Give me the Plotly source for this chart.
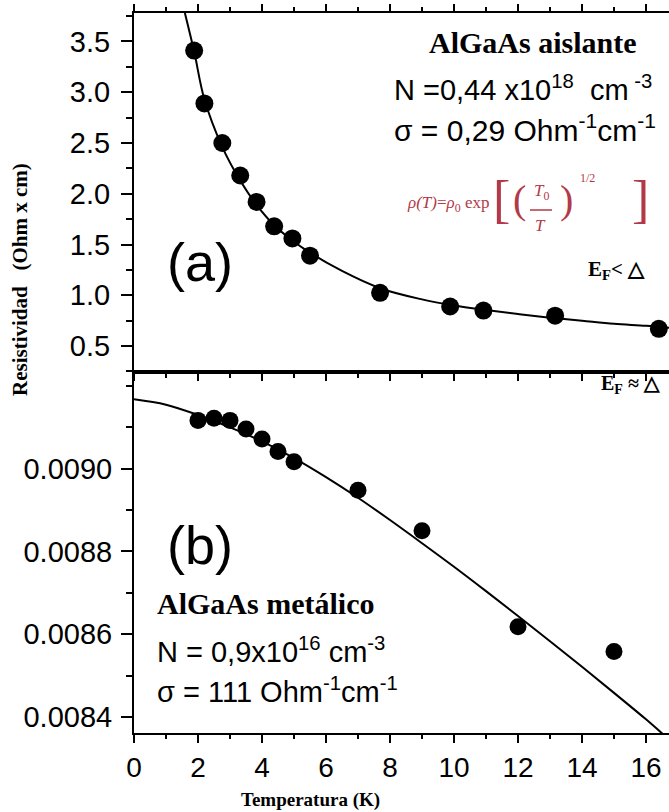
import plotly.graph_objects as go

# ---------------- data ----------------
# (a) insulating AlGaAs
temp_a = [1.88, 2.20, 2.76, 3.32, 3.83, 4.38, 4.95, 5.50, 7.69, 9.88, 10.92, 13.16, 16.40]
rho_a = [3.41, 2.89, 2.50, 2.18, 1.92, 1.68, 1.56, 1.39, 1.025, 0.89, 0.85, 0.80, 0.67]
fit_temp_a = [1.59, 1.88, 2.20, 2.76, 3.32, 3.83, 4.38, 4.95, 5.50, 6.50, 7.69, 9.0, 10.0,
              11.0, 12.0, 13.0, 14.0, 15.0, 16.0, 16.72]
fit_rho_a = [3.78, 3.40, 2.93, 2.46, 2.13, 1.89, 1.69, 1.54, 1.42, 1.24, 1.07, 0.96, 0.90,
             0.855, 0.815, 0.78, 0.75, 0.72, 0.70, 0.68]

# (b) metallic AlGaAs
temp_b = [2.0, 2.5, 3.0, 3.5, 4.0, 4.5, 5.0, 7.0, 9.0, 12.0, 15.0]
rho_b = [0.009117, 0.009122, 0.009117, 0.009096, 0.009072, 0.009042, 0.009017,
         0.008948, 0.008850, 0.008618, 0.008558]
fit_temp_b = [0, 1, 2, 3, 4, 5, 6, 7, 8, 9, 10, 11, 12, 13, 14, 15, 16, 16.72]
fit_rho_b = [0.009168, 0.009155, 0.009130, 0.009100, 0.009066, 0.009026, 0.008980,
             0.008930, 0.008876, 0.008820, 0.008763, 0.008704, 0.008644, 0.008583,
             0.008521, 0.008458, 0.008394, 0.008345]

x_ticks = [0, 2, 4, 6, 8, 10, 12, 14, 16]
ya_ticks = [0.5, 1.0, 1.5, 2.0, 2.5, 3.0, 3.5]
yb_ticks = [0.0084, 0.0086, 0.0088, 0.0090]

# ---------------- layout helpers ----------------
W, H = 669, 812
L, R, T, B = 134, 0, 13, 79
PW, PH = W - L - R, H - T - B
SPLIT = 372  # pixel row where the panels meet


def px(x):
    return (x - L) / PW


def py(y):
    return (H - B - y) / PH


SANS = "Liberation Sans, Arial, sans-serif"
SERIF = "Liberation Serif, Times New Roman, serif"
RED = "#b23a48"

fig = go.Figure()

fig.add_trace(go.Scatter(x=fit_temp_a, y=fit_rho_a, mode="lines", line=dict(color="black", width=2, shape="spline"),
                         xaxis="x", yaxis="y", showlegend=False, hoverinfo="skip"))
fig.add_trace(go.Scatter(x=temp_a, y=rho_a, mode="markers", marker=dict(color="black", size=18),
                         xaxis="x", yaxis="y", showlegend=False))
fig.add_trace(go.Scatter(x=fit_temp_b, y=fit_rho_b, mode="lines", line=dict(color="black", width=2, shape="spline"),
                         xaxis="x2", yaxis="y2", showlegend=False, hoverinfo="skip"))
fig.add_trace(go.Scatter(x=temp_b, y=rho_b, mode="markers", marker=dict(color="black", size=17),
                         xaxis="x2", yaxis="y2", showlegend=False))

split_frac = py(SPLIT)
xrange_ = [0, (W - L) / 32.0]

axis_common = dict(showline=True, linecolor="black", linewidth=2, ticks="outside", tickcolor="black",
                   tickwidth=2, showgrid=False, zeroline=False,
                   tickfont=dict(family=SANS, size=29, color="black"))

fig.update_layout(
    width=W, height=H,
    margin=dict(l=L, r=R, t=T, b=B),
    paper_bgcolor="white", plot_bgcolor="white",
    xaxis=dict(axis_common, range=xrange_, anchor="y", showticklabels=False, tickvals=x_ticks,
               ticklen=7, mirror="ticks",
               minor=dict(dtick=1, ticks="outside", ticklen=4, tickcolor="black", tickwidth=2)),
    yaxis=dict(axis_common, domain=[split_frac, 1], range=[0.245, 3.78], anchor="x",
               tickvals=ya_ticks, ticktext=[f"{v:.1f}" for v in ya_ticks], ticklen=11,
               ticklabelstandoff=5,
               minor=dict(dtick=0.25, ticks="outside", ticklen=6, tickcolor="black", tickwidth=2)),
    xaxis2=dict(axis_common, range=xrange_, anchor="y2", tickvals=x_ticks, ticklen=8, mirror=True,
                tickfont=dict(family=SANS, size=28, color="black"),
                minor=dict(dtick=1, ticks="outside", ticklen=4, tickcolor="black", tickwidth=2)),
    yaxis2=dict(axis_common, domain=[0, split_frac], range=[0.008361, 0.009234], anchor="x2",
                tickvals=yb_ticks, ticktext=[f"{v:.4f}" for v in yb_ticks], ticklen=11,
                ticklabelstandoff=3,
                minor=dict(dtick=0.0001, ticks="outside", ticklen=6, tickcolor="black", tickwidth=2)),
)


def note(text, x, y, size, family=SANS, color="black", xanchor="center", yanchor="middle", angle=0):
    fig.add_annotation(text=text, x=px(x), y=py(y), xref="paper", yref="paper", showarrow=False,
                       xanchor=xanchor, yanchor=yanchor, textangle=angle,
                       font=dict(family=family, size=size, color=color))


# panel (a) texts
note("<b>AlGaAs aislante</b>", 533, 43, 30, SERIF)
note("N =0,44 x10<sup>18</sup>  cm<sup> -3</sup>", 392, 88, 29, xanchor="left")
note("σ = 0,29 Ohm<sup>-1</sup>cm<sup>-1</sup>", 392, 128, 30, xanchor="left")
note("(a)", 200, 262, 54)
note("<b>E<sub>F</sub>< △</b>", 616, 270, 21, SERIF)

# formula rho(T) = rho0 exp[(T0/T)^(1/2)]
note("<i>ρ(T)</i>=<i>ρ</i><sub>0</sub> exp", 405, 204, 17, SERIF, RED, xanchor="left")
note("[", 501, 200, 52, SERIF, RED)
note("(", 519, 200, 40, SERIF, RED)
note("<i>T</i><sub>0</sub>", 541, 192, 17, SERIF, RED)
note("<i>T</i>", 540, 226, 17, SERIF, RED)
note(")", 566, 200, 40, SERIF, RED)
note("1/2", 587, 178, 12, SERIF, RED)
note("]", 640, 200, 52, SERIF, RED)
fig.add_shape(type="line", xref="paper", yref="paper", x0=px(530), x1=px(552), y0=py(210), y1=py(210),
              line=dict(color=RED, width=1.5))

# panel (b) texts
note("<b>E<sub>F</sub> ≈ △</b>", 630, 385, 20, SERIF)
note("(b)", 200, 545, 54)
note("<b>AlGaAs metálico</b>", 155, 603, 30, SERIF, xanchor="left")
note("N = 0,9x10<sup>16</sup> cm<sup>-3</sup>", 155, 650, 29, xanchor="left")
note("σ = 111 Ohm<sup>-1</sup>cm<sup>-1</sup>", 155, 690, 29, xanchor="left")

# axis titles
note("<b>Temperatura (K)</b>", 310, 800, 19, SERIF)
note("<b>Resistividad   (Ohm x cm)</b>", 20, 280, 21, SERIF, angle=-90)

fig.write_html("out.html")
